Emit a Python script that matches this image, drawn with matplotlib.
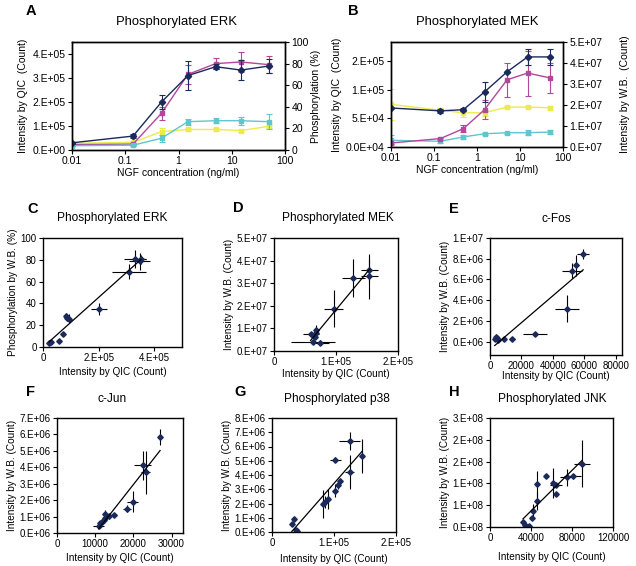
import matplotlib
matplotlib.use("Agg")
import matplotlib.pyplot as plt
import numpy as np

plt.rcParams['font.family'] = ['Liberation Sans', 'DejaVu Sans']

# --- data ---
ngf = [0.01, 0.14, 0.48, 1.5, 5, 15, 50]

# A: phosphorylated ERK
a_qic = [0.30e5, 0.58e5, 2.0e5, 3.1e5, 3.47e5, 3.33e5, 3.5e5]
a_qic_err = [0.05e5, 0.07e5, 0.3e5, 0.6e5, 0.1e5, 0.4e5, 0.3e5]
a_cyan = [0.18e5, 0.2e5, 0.49e5, 1.18e5, 1.22e5, 1.22e5, 1.18e5]
a_cyan_err = [0.03e5, 0.03e5, 0.14e5, 0.12e5, 0.1e5, 0.17e5, 0.3e5]
a_wb = [5, 5.5, 34, 70, 80, 81.5, 79]
a_wb_err = [1, 1, 6, 9, 5, 9, 8]
a_yel = [6.2, 7.1, 17, 19, 19, 18, 22]
a_yel_err = [1, 1, 3, 1.5, 1.5, 1.5, 1.5]

# B: phosphorylated MEK
b_qic = [6.8e4, 6.3e4, 6.5e4, 9.6e4, 1.31e5, 1.57e5, 1.57e5]
b_qic_err = [0, 0.4e4, 0.3e4, 1.75e4, 0, 1.4e4, 1.45e4]
b_wb = [0.19e7, 0.4e7, 0.87e7, 1.78e7, 3.2e7, 3.52e7, 3.29e7]
b_wb_err = [0.05e7, 0.05e7, 0.16e7, 0.44e7, 0.8e7, 1.07e7, 0.7e7]
b_yel = [2.03e7, 1.75e7, 1.63e7, 1.63e7, 1.9e7, 1.9e7, 1.87e7]
b_yel_err = [0.75e7, 0.1e7, 0.2e7, 0.15e7, 0.05e7, 0.05e7, 0.1e7]
b_cyan = [0.32e7, 0.27e7, 0.48e7, 0.63e7, 0.68e7, 0.68e7, 0.71e7]
b_cyan_err = [0.24e7, 0.1e7, 0.08e7, 0.05e7, 0.05e7, 0.12e7, 0.11e7]

# C-H: W.B. vs QIC
c_x = [0.22e5, 0.28e5, 0.56e5, 0.73e5, 0.81e5, 0.85e5, 0.93e5, 2.01e5, 3.09e5, 3.31e5, 3.48e5, 3.52e5]
c_y = [3.7, 4.6, 5.2, 11.7, 28.3, 26.8, 26, 34.5, 69, 80.6, 78.5, 80.6]
c_xe = [0.02e5, 0.02e5, 0.03e5, 0.03e5, 0.03e5, 0.04e5, 0.06e5, 0.3e5, 0.62e5, 0.4e5, 0.38e5, 0.2e5]
c_ye = [1, 1, 1, 2, 3, 3, 4, 5.5, 7, 8.5, 7.7, 4]

d_x = [0.59e5, 0.63e5, 0.67e5, 0.68e5, 0.66e5, 0.74e5, 0.96e5, 1.28e5, 1.54e5, 1.54e5]
d_y = [0.74e7, 0.41e7, 0.93e7, 0.81e7, 0.63e7, 0.37e7, 1.88e7, 3.24e7, 3.57e7, 3.31e7]
d_xe = [0.13e5, 0.35e5, 0.02e5, 0.02e5, 0.02e5, 0.15e5, 0.15e5, 0.19e5, 0.13e5, 0.14e5]
d_ye = [0.1e7, 0.1e7, 0.2e7, 0.1e7, 0.1e7, 0.1e7, 0.8e7, 0.85e7, 0.5e7, 1.0e7]

e_x = [3000, 3500, 4200, 5000, 9000, 14000, 28800, 49000, 52300, 55000, 59300]
e_y = [0.23e6, 0.48e6, 0.32e6, 0.16e6, 0.26e6, 0.26e6, 0.74e6, 3.16e6, 6.84e6, 7.35e6, 8.45e6]
e_xe = [500, 500, 500, 500, 1000, 2000, 7700, 7800, 6400, 1500, 3700]
e_ye = [0.2e6, 0.2e6, 0.1e6, 0.1e6, 0.1e6, 0.1e6, 0.2e6, 1.3e6, 0.75e6, 1.0e6, 0.5e6]

f_x = [27000, 22400, 23200, 19800, 18400, 15000, 13500, 12600, 12200, 11700, 11300, 10900, 12600]
f_y = [5.86e6, 4.12e6, 3.7e6, 1.91e6, 1.48e6, 1.07e6, 1.03e6, 0.93e6, 0.78e6, 0.66e6, 0.62e6, 0.41e6, 1.13e6]
f_xe = [300, 2200, 1200, 1500, 1100, 800, 600, 500, 500, 500, 500, 1500, 500]
f_ye = [0.5e6, 0.9e6, 1.3e6, 0.65e6, 0.2e6, 0.1e6, 0.15e6, 0.2e6, 0.15e6, 0.1e6, 0.1e6, 0.1e6, 0.3e6]

g_x = [0.32e5, 0.36e5, 0.39e5, 0.41e5, 0.83e5, 0.86e5, 0.90e5, 1.02e5, 1.01e5, 1.07e5, 1.09e5, 1.25e5, 1.25e5, 1.45e5]
g_y = [0.59e6, 0.94e6, 0.12e6, 0.07e6, 1.95e6, 2.1e6, 2.3e6, 5.08e6, 2.9e6, 3.3e6, 3.58e6, 6.4e6, 4.2e6, 5.36e6]
g_xe = [0.01e5, 0.01e5, 0.01e5, 0.01e5, 0.01e5, 0.01e5, 0.01e5, 0.09e5, 0.01e5, 0.01e5, 0.01e5, 0.17e5, 0.08e5, 0.01e5]
g_ye = [0.1e6, 0.1e6, 0.1e6, 0.1e6, 1.0e6, 0.4e6, 0.7e6, 0.2e6, 0.45e6, 0.3e6, 0.2e6, 0.65e6, 1.2e6, 1.2e6]

h_x = [32200, 34500, 37800, 41100, 41800, 45400, 46000, 54300, 61800, 64100, 64100, 75000, 80600, 89800]
h_y = [0.12e8, 0.04e8, 0.03e8, 0.21e8, 0.36e8, 0.99e8, 0.60e8, 1.18e8, 1.01e8, 0.96e8, 0.75e8, 1.14e8, 1.16e8, 1.45e8]
h_xe = [1000, 1000, 1000, 1000, 1500, 1000, 1000, 500, 1000, 6000, 1000, 7000, 8000, 8000]
h_ye = [0.02e8, 0.01e8, 0.01e8, 0.03e8, 0.17e8, 0.3e8, 0.21e8, 0.03e8, 0.34e8, 0.05e8, 0.04e8, 0.2e8, 0.05e8, 0.54e8]

navy = '#1b2a5c'
magenta = '#b2479c'
cyan = '#5ec6cf'
yellow = '#eceb4c'

W, H = 636, 566
fig = plt.figure(figsize=(W / 100, H / 100), dpi=100)


def box(l, t, r, b):
    return [l / W, 1 - b / H, (r - l) / W, (b - t) / H]


def letter(x, y, s):
    fig.text(x / W, 1 - y / H, s, fontsize=10.5, fontweight='bold', va='center', ha='left')


def title(x, y, s, size=9.4):
    fig.text(x / W, 1 - y / H, s, fontsize=size, va='center', ha='center')


def style(ax):
    for sp in ax.spines.values():
        sp.set_linewidth(1.0)
    ax.tick_params(labelsize=7, length=3, width=0.8, pad=1.5)


def line_err(ax, y, err, color, marker):
    ax.errorbar(ngf, y, yerr=err, color=color, marker=marker, ms=3.2, lw=1.0,
                elinewidth=0.8, capsize=2, capthick=0.8)


# ---- A ----
axA = fig.add_axes(box(72, 42, 285, 150))
axA2 = axA.twinx()
line_err(axA2, a_yel, a_yel_err, yellow, 's')
line_err(axA2, a_wb, a_wb_err, magenta, 's')
line_err(axA, a_cyan, a_cyan_err, cyan, 's')
line_err(axA, a_qic, a_qic_err, navy, 'D')
axA.set_zorder(axA2.get_zorder() + 1)
axA.patch.set_visible(False)
axA.set_xscale('log')
axA.set_xlim(0.01, 100)
axA.set_ylim(0, 4.5e5)
axA2.set_ylim(0, 100)
axA.set_xticks([0.01, 0.1, 1, 10, 100])
axA.set_xticklabels(['0.01', '0.1', '1', '10', '100'])
axA.minorticks_off()
axA.set_yticks([0, 1e5, 2e5, 3e5, 4e5])
axA.set_yticklabels(['0.E+00', '1.E+05', '2.E+05', '3.E+05', '4.E+05'])
axA2.set_yticks([0, 20, 40, 60, 80, 100])
for ax in (axA, axA2):
    style(ax)
    ax.tick_params(labelsize=7.5)
axA.set_ylabel('Intensity by QIC  (Count)', fontsize=7.5, labelpad=3)
axA2.set_ylabel('Phosphorylation (%)', fontsize=7.5, labelpad=2)
axA.set_xlabel('NGF concentration (ng/ml)', fontsize=7.5, labelpad=1)
letter(26, 11, 'A')
title(176, 22, 'Phosphorylated ERK')

# ---- B ----
axB = fig.add_axes(box(391, 42, 563, 147))
axB2 = axB.twinx()
line_err(axB2, b_yel, b_yel_err, yellow, 's')
line_err(axB2, b_cyan, b_cyan_err, cyan, 's')
line_err(axB2, b_wb, b_wb_err, magenta, 's')
line_err(axB, b_qic, b_qic_err, navy, 'D')
axB.set_zorder(axB2.get_zorder() + 1)
axB.patch.set_visible(False)
axB.set_xscale('log')
axB.set_xlim(0.01, 100)
axB.set_ylim(0, 1.83e5)
axB2.set_ylim(0, 5e7)
axB.set_xticks([0.01, 0.1, 1, 10, 100])
axB.set_xticklabels(['0.01', '0.1', '1', '10', '100'])
axB.minorticks_off()
axB.set_yticks([0, 5e4, 1e5, 1.5e5])
axB.set_yticklabels(['0.0E+04', '5.E+04', '1.E+05', '2.E+05'])
axB2.set_yticks([0, 1e7, 2e7, 3e7, 4e7, 5e7])
axB2.set_yticklabels(['0.E+07', '1.E+07', '2.E+07', '3.E+07', '4.E+07', '5.E+07'])
for ax in (axB, axB2):
    style(ax)
    ax.tick_params(labelsize=7.5)
axB.set_ylabel('Intensity by QIC  (Count)', fontsize=7.5, labelpad=3)
axB2.set_ylabel('Intensity by W.B.  (Count)', fontsize=7.5, labelpad=13)
axB.set_xlabel('NGF concentration (ng/ml)', fontsize=7.5, labelpad=1)
letter(348, 11, 'B')
title(477, 22, 'Phosphorylated MEK')


# ---- scatter panels ----
def scatter_panel(rect, x, y, xe, ye, xlim, ylim, xticks, xlabels, yticks, ylabels, ylabel, xpad):
    ax = fig.add_axes(rect)
    ax.errorbar(x, y, xerr=xe, yerr=ye, fmt='none', ecolor='black', elinewidth=0.8, capsize=0)
    ax.plot(x, y, 'D', color=navy, ms=2.8, mec=navy)
    k, b0 = np.polyfit(x, y, 1)
    xx = np.array([min(x), max(x)])
    ax.plot(xx, k * xx + b0, color='black', lw=0.9)
    ax.set_xlim(*xlim)
    ax.set_ylim(*ylim)
    ax.set_xticks(xticks)
    ax.set_xticklabels(xlabels)
    ax.set_yticks(yticks)
    ax.set_yticklabels(ylabels)
    style(ax)
    ax.set_ylabel(ylabel, fontsize=7.2, labelpad=2)
    ax.set_xlabel('Intensity by QIC (Count)', fontsize=7.2, labelpad=xpad)
    return ax


axC = scatter_panel(box(43, 238, 182, 347), c_x, c_y, c_xe, c_ye, (0, 5e5), (0, 100),
                    [0, 2e5, 4e5], ['0', '2.E+05', '4.E+05'],
                    [0, 20, 40, 60, 80, 100], ['0', '20', '40', '60', '80', '100'],
                    'Phosphorylation by W.B. (%)', 3)
letter(27, 209, 'C')
title(112, 218, 'Phosphorylated ERK', 8.6)

axD = scatter_panel(box(274, 238, 398, 351), d_x, d_y, d_xe, d_ye, (0, 2e5), (0, 5e7),
                    [0, 1e5, 2e5], ['0', '1.E+05', '2.E+05'],
                    [0, 1e7, 2e7, 3e7, 4e7, 5e7],
                    ['0.E+07', '1.E+07', '2.E+07', '3.E+07', '4.E+07', '5.E+07'],
                    'Intensity by W.B. (Count)', 1.5)
letter(233, 208, 'D')
title(338, 218, 'Phosphorylated MEK', 8.6)

axE = scatter_panel(box(490, 238, 622, 355), e_x, e_y, e_xe, e_ye, (0, 84000), (-1.3e6, 1e7),
                    [0, 20000, 40000, 60000, 80000], ['0', '20000', '40000', '60000', '80000'],
                    [0, 2e6, 4e6, 6e6, 8e6, 1e7],
                    ['0.E+06', '2.E+06', '4.E+06', '6.E+06', '8.E+06', '1.E+07'],
                    'Intensity by W.B. (Count)', 0)
letter(449, 209, 'E')
title(556, 219, 'c-Fos', 8.6)

axF = scatter_panel(box(57, 418, 183, 533), f_x, f_y, f_xe, f_ye, (0, 33000), (0, 7e6),
                    [0, 10000, 20000, 30000], ['0', '10000', '20000', '30000'],
                    [0, 1e6, 2e6, 3e6, 4e6, 5e6, 6e6, 7e6],
                    ['0.E+06', '1.E+06', '2.E+06', '3.E+06', '4.E+06', '5.E+06', '6.E+06', '7.E+06'],
                    'Intensity by W.B. (Count)', 2.5)
letter(26, 392, 'F')
title(112, 399, 'c-Jun', 8.6)

axG = scatter_panel(box(272, 418, 396, 532), g_x, g_y, g_xe, g_ye, (0, 2e5), (0, 8e6),
                    [0, 1e5, 2e5], ['0', '1.E+05', '2.E+05'],
                    [0, 1e6, 2e6, 3e6, 4e6, 5e6, 6e6, 7e6, 8e6],
                    ['0.E+06', '1.E+06', '2.E+06', '3.E+06', '4.E+06', '5.E+06', '6.E+06', '7.E+06', '8.E+06'],
                    'Intensity by W.B. (Count)', 4)
letter(234, 392, 'G')
title(337, 399, 'Phosphorylated p38', 8.6)

axH = scatter_panel(box(490, 418, 613, 527), h_x, h_y, h_xe, h_ye, (0, 120000), (0, 2.5e8),
                    [0, 40000, 80000, 120000], ['0', '40000', '80000', '120000'],
                    [0, 0.5e8, 1e8, 1.5e8, 2e8, 2.5e8],
                    ['0.E+08', '1.E+08', '1.E+08', '2.E+08', '2.E+08', '3.E+08'],
                    'Intensity by W.B. (Count)', 6)
letter(449, 392, 'H')
title(552, 399, 'Phosphorylated JNK', 8.6)

fig.savefig('out.png', dpi=100)
